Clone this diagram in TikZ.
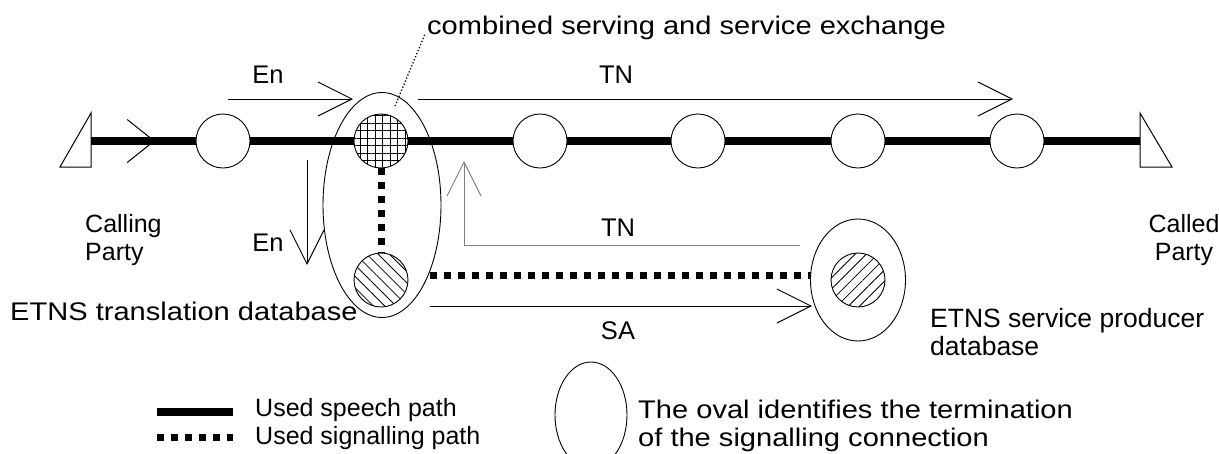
\documentclass[tikz,border=0pt]{standalone}
\usepackage{fontspec}
\setmainfont{Liberation Sans}
\newfontfamily\widesans[FakeStretch=1.14]{Liberation Sans}
\usetikzlibrary{shapes.geometric,arrows.meta,patterns.meta}

\begin{document}
\begin{tikzpicture}[x=1pt,y=-1pt,
  thin/.style={line width=1pt},
  speech/.style={line width=7.5pt},
  signal/.style={line width=7pt, dash pattern=on 7pt off 7pt},
  exch/.style={circle, draw, line width=0.9pt, minimum size=54pt, inner sep=0pt},
  oval/.style={ellipse, draw, line width=0.9pt, inner sep=0pt},
  barb/.style={thin, -{Straight Barb[length=34pt,width=34pt]}},
  lbl/.style={font=\widesans\fontsize{25.5}{27.5}\selectfont, inner sep=0pt},
  flow/.style={font=\fontsize{25.5}{28}\selectfont, inner sep=0pt},
  small/.style={font=\fontsize{25}{28}\selectfont, inner sep=0pt},
  callout/.style={dotted, line width=1.3pt}
]
\useasboundingbox (0,0) rectangle (1219,453);

% exchanges along the speech path
\node[exch] (x1) at (223,141) {};
\node[exch, pattern={Hatch[angle=0,distance=7.5pt,line width=0.8pt]}] (sx) at (381,141) {};
\node[exch] (x2) at (540,141) {};
\node[exch] (x3) at (698,141) {};
\node[exch] (x4) at (858,141) {};
\node[exch] (x5) at (1017,141) {};

% databases
\node[exch, pattern={Lines[angle=-45,distance=8pt,line width=0.8pt]}] (tdb) at (381,280) {};
\node[exch, pattern={Lines[angle=45,distance=8pt,line width=0.8pt]}] (pdb) at (858,280) {};

% signalling terminations
\node[oval, minimum width=118pt, minimum height=225pt] (bigoval) at (382,205) {};
\node[oval, minimum width=95pt, minimum height=122pt] (rtoval) at (858,280) {};

% terminals
\draw[thin] (60,167) -- (91,113) -- (91,167) -- cycle;
\draw[thin] (1140,113) -- (1172,167) -- (1140,167) -- cycle;
\coordinate (callend) at (91,141);
\coordinate (calledend) at (1140,141);

% used speech path
\draw[speech] (callend) -- (x1) -- (sx) -- (x2) -- (x3) -- (x4) -- (x5) -- (calledend);
\coordinate (dirA) at (128,141);
\coordinate (dirB) at (155,141);
\draw[thin, -{Straight Barb[length=27pt,width=43pt]}] (dirA) -- (dirB);

% used signalling path
\draw[signal] (sx) -- (tdb);
\coordinate (sigL) at (430,275);
\coordinate (sigR) at (811,275);
\draw[signal] (sigL) -- (sigR);

% message flows
\coordinate (en1a) at (228,99);
\coordinate (en1b) at (353,99);
\draw[barb] (en1a) -- (en1b);
\coordinate (tn1a) at (418,99);
\coordinate (tn1b) at (1013,99);
\draw[barb] (tn1a) -- (tn1b);
\coordinate (en2a) at (307,160);
\coordinate (en2b) at (307,265);
\draw[barb] (en2a) -- (en2b);
\coordinate (tn2a) at (800,245);
\coordinate (tn2c) at (464,245);
\coordinate (tn2b) at (464,161);
\draw[barb, gray] (tn2a) -- (tn2c) -- (tn2b);
\coordinate (saa) at (430,306);
\coordinate (sab) at (812,306);
\draw[barb] (saa) -- (sab);

% labels
\node[flow] (lEn1) at (268,75) {En};
\node[flow] (lTN1) at (616,75) {TN};
\node[flow] (lEn2) at (268,243) {En};
\node[flow] (lTN2) at (618,228) {TN};
\node[flow] (lSA) at (618,331) {SA};
\node[lbl, anchor=west] (lcomb) at (427,28) {combined serving and service exchange};
\coordinate (calloutA) at (395,106);
\coordinate (calloutB) at (425,34);
\draw[callout] (calloutA) -- (calloutB);
\node[small, anchor=west, align=left] (lcalling) at (85,240) {Calling\\Party};
\node[small, align=center] (lcalled) at (1184,240) {Called\\Party};
\node[lbl, anchor=west] (ltdb) at (10,311) {ETNS translation database};
\node[flow, font=\fontsize{26.5}{27.5}\selectfont, anchor=west, align=left] (lpdb) at (930,332) {ETNS service producer\\database};

% legend
\coordinate (lg1a) at (157,412);
\coordinate (lg1b) at (233,412);
\draw[speech] (lg1a) -- (lg1b);
\node[small, anchor=west] (lg1t) at (255,410) {Used speech path};
\coordinate (lg2a) at (157,437);
\coordinate (lg2b) at (233,437);
\draw[signal] (lg2a) -- (lg2b);
\node[small, anchor=west] (lg2t) at (255,438) {Used signalling path};
\node[oval, minimum width=72pt, minimum height=106pt] (lgoval) at (591,415) {};
\node[lbl, anchor=west, align=left] (lg3t) at (638,426) {The oval identifies the termination\\of the signalling connection};
\end{tikzpicture}
\end{document}
